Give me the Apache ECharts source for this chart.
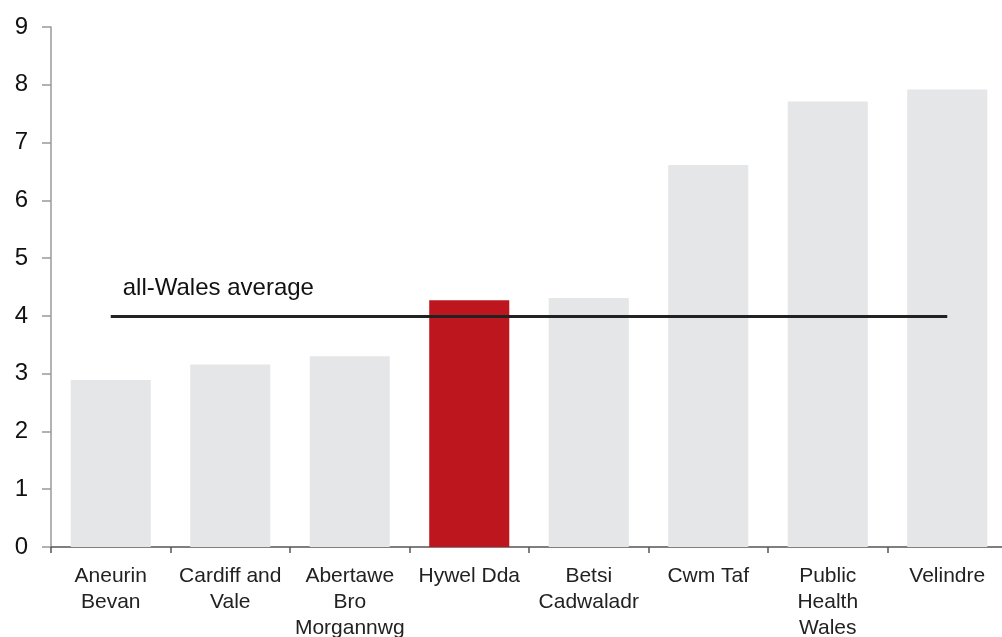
<!DOCTYPE html>
<html>
<head>
<meta charset="utf-8">
<script src="https://cdn.jsdelivr.net/npm/echarts@6/dist/echarts.min.js"></script>
<style>
  html, body { margin: 0; padding: 0; background: #fff; }
  #chart { width: 1002px; height: 637px; }
</style>
</head>
<body>
<div id="chart"></div>
<script>
// Health boards, in the order they are drawn
const boards = ['Aneurin\nBevan', 'Cardiff and\nVale', 'Abertawe\nBro\nMorgannwg', 'Hywel Dda',
                'Betsi\nCadwaladr', 'Cwm Taf', 'Public\nHealth\nWales', 'Velindre'];
const values = [2.89, 3.16, 3.30, 4.27, 4.31, 6.61, 7.71, 7.92];
const highlighted = 'Hywel Dda';
const walesAverage = 4;
const averageLabel = 'all-Wales average';

const FONT = '"Liberation Sans", Arial, sans-serif';
const GREY = '#e5e6e8';
const RED = '#bd161e';

const chart = echarts.init(document.getElementById('chart'), null, { renderer: 'canvas' });

chart.setOption({
  animation: false,
  backgroundColor: '#fff',
  // the plot runs a few pixels past the right edge of the canvas
  grid: { left: 51, width: 956, top: 27, bottom: 90, outerBoundsMode: 'none', containLabel: false },
  xAxis: {
    type: 'category',
    data: boards,
    axisLine: { lineStyle: { color: '#555', width: 1.5 } },
    axisTick: { show: true, length: 6, alignWithLabel: false, lineStyle: { color: '#555', width: 1.5 } },
    axisLabel: {
      interval: 0, margin: 16, color: '#222', fontFamily: FONT, fontSize: 21, lineHeight: 26
    },
    splitLine: { show: false }
  },
  yAxis: {
    type: 'value',
    min: 0, max: 9, interval: 1,
    axisLine: { show: true, lineStyle: { color: '#999', width: 1.5 } },
    axisTick: { show: true, inside: false, length: 9, lineStyle: { color: '#999', width: 1.5 } },
    axisLabel: { margin: 23, color: '#111', fontFamily: FONT, fontSize: 24 },
    splitLine: { show: false }
  },
  series: [{
    type: 'bar',
    barCategoryGap: '33%',
    data: values.map((v, i) => ({
      value: v,
      itemStyle: { color: boards[i] === highlighted ? RED : GREY }
    })),
    markLine: {
      silent: true,
      symbol: ['none', 'none'],
      lineStyle: { color: '#222', width: 3, type: 'solid' },
      label: {
        show: true,
        position: 'insideStartTop',
        formatter: averageLabel,
        color: '#111',
        fontFamily: FONT,
        fontSize: 24,
        distance: [12, 16]
      },
      data: [[
        { coord: [boards[0], walesAverage] },
        { coord: [boards[boards.length - 1], walesAverage] }
      ]]
    }
  }]
});
</script>
</body>
</html>
